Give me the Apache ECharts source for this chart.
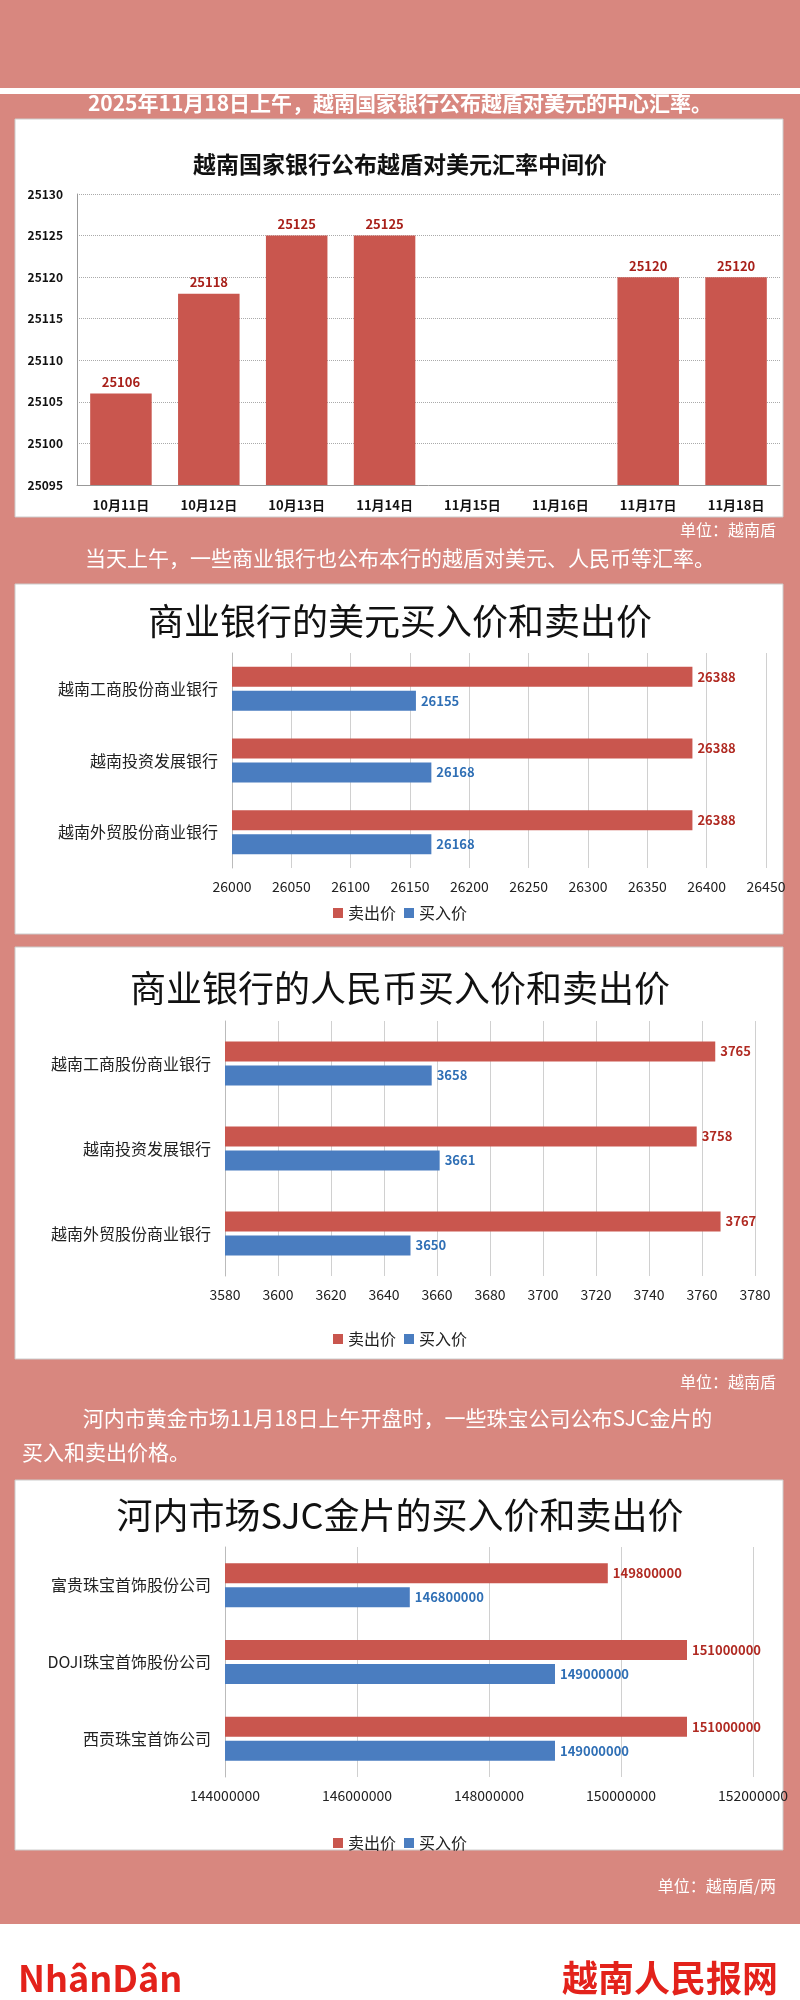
<!DOCTYPE html>
<html><head><meta charset="utf-8">
<script src="https://cdn.jsdelivr.net/npm/echarts@6/dist/echarts.min.js"></script>
<style>html,body{margin:0;padding:0;background:#fff}#main{width:800px;height:2000px}</style>
</head><body><div id="main"></div>
<script>
var FONT = '"Noto Sans CJK SC", sans-serif';
var RED = '#c9564e', BLUE = '#4a7dc0', PINK = '#d8877f';
// 中心汇率
var rateDays = ['10月11日','10月12日','10月13日','11月14日','11月15日','11月16日','11月17日','11月18日'];
var rateVals = [25106,25118,25125,25125,null,null,25120,25120];
// 商业银行
var banks = ['越南工商股份商业银行','越南投资发展银行','越南外贸股份商业银行'];
var usdSell = [26388,26388,26388];
var usdBuy = [26155,26168,26168];
var cnySell = [3765,3758,3767];
var cnyBuy = [3658,3661,3650];
// 金片
var goldCos = ['富贵珠宝首饰股份公司','DOJI珠宝首饰股份公司','西贡珠宝首饰公司'];
var goldSell = [149800000,151000000,151000000];
var goldBuy = [146800000,149000000,149000000];

var myChart = echarts.init(document.getElementById('main'));
function plain(v){ return String(v); }

function box(y,h){
	return {type:'rect',shape:{x:15,y:y,width:768,height:h},style:{fill:'#fff',stroke:'#ccc'}};
}
function txt(x,y,s,size,color,align,weight){
	return {type:'text',x:x,y:y,style:{text:s,fontSize:size,fontWeight:weight||'normal',fontFamily:FONT,fill:color,textAlign:align||'left',textVerticalAlign:'middle'}};
}
//横向条形图的公共设置
function hbar(idx,cats,min,max,step){
	return {
		x:{gridIndex:idx,type:'value',min:min,max:max,interval:step,axisLine:{show:false},axisTick:{show:false},
			splitLine:{lineStyle:{color:'#d0d0d0'}},axisLabel:{color:'#222',fontSize:14,fontFamily:FONT,margin:12,formatter:plain}},
		y:{gridIndex:idx,type:'category',data:cats,inverse:true,axisTick:{show:false},
			axisLine:{lineStyle:{color:'#bbb'}},axisLabel:{color:'#222',fontSize:16,fontFamily:FONT,margin:14}}
	};
}
var a2 = hbar(1,banks,26000,26450,50);
var a3 = hbar(2,banks,3580,3780,20);
var a4 = hbar(3,goldCos,144000000,152000000,2000000);

function barS(name,color,xi,data){
	return {name:name,type:'bar',xAxisIndex:xi,yAxisIndex:xi,data:data,barWidth:20,barGap:'20%',
		itemStyle:{color:color},
		label:{show:true,position:'right',color:color==RED?'#b02a22':'#2f6fb5',fontWeight:'bold',fontSize:13,fontFamily:FONT}};
}
function leg(top){
	return {top:top,left:'center',itemWidth:10,itemHeight:10,icon:'rect',data:['卖出价','买入价'],
		textStyle:{fontSize:16,color:'#222',fontFamily:FONT}};
}

var option = {
	animation:false,
	graphic:[
		{type:'rect',shape:{x:0,y:0,width:800,height:1924},style:{fill:PINK}},
		{type:'rect',shape:{x:0,y:88,width:800,height:6},style:{fill:'#fff'}},
		box(119,398), box(584,350), box(947,412), box(1480,370),
		txt(400,103,'2025年11月18日上午，越南国家银行公布越盾对美元的中心汇率。',21,'#fff','center','bold'),
		txt(776,530,'单位：越南盾',16,'#fff','right'),
		txt(400,558,'当天上午，一些商业银行也公布本行的越盾对美元、人民币等汇率。',21,'#fff','center'),
		txt(776,1382,'单位：越南盾',16,'#fff','right'),
		txt(64,1418,'    河内市黄金市场11月18日上午开盘时，一些珠宝公司公布SJC金片的',21,'#fff'),
		txt(22,1452,'买入和卖出价格。',21,'#fff'),
		txt(776,1886,'单位：越南盾/两',16,'#fff','right'),
		txt(18,1978,'NhânDân',36,'#e3221b','left','bold'),
		txt(778,1978,'越南人民报网',36,'#e3221b','right','bold')
	],
	title:[
		{text:'越南国家银行公布越盾对美元汇率中间价',left:'center',top:148,textStyle:{fontSize:23,fontWeight:'bold',color:'#111',fontFamily:FONT}},
		{text:'商业银行的美元买入价和卖出价',left:'center',top:598,textStyle:{fontSize:36,fontWeight:'normal',color:'#111',fontFamily:FONT}},
		{text:'商业银行的人民币买入价和卖出价',left:'center',top:965,textStyle:{fontSize:36,fontWeight:'normal',color:'#111',fontFamily:FONT}},
		{text:'河内市场SJC金片的买入价和卖出价',left:'center',top:1492,textStyle:{fontSize:36,fontWeight:'normal',color:'#111',fontFamily:FONT}}
	],
	legend:[leg(900),leg(1326),leg(1830)],
	grid:[
		{left:77,right:20,top:194,height:291},
		{left:232,right:34,top:653,height:215},
		{left:225,right:45,top:1021,height:255},
		{left:225,right:47,top:1547,height:230}
	],
	xAxis:[
		{gridIndex:0,type:'category',data:rateDays,axisTick:{show:false},axisLine:{lineStyle:{color:'#999'}},
			axisLabel:{color:'#111',fontSize:13,fontWeight:'bold',fontFamily:FONT,margin:14}},
		a2.x,a3.x,a4.x
	],
	yAxis:[
		{gridIndex:0,type:'value',min:25095,max:25130,interval:5,axisLine:{show:true,lineStyle:{color:'#999'}},
			splitLine:{lineStyle:{color:'#aaa',type:'dotted'}},
			axisLabel:{color:'#111',fontSize:12,fontWeight:'bold',fontFamily:FONT,margin:14,formatter:plain}},
		a2.y,a3.y,a4.y
	],
	series:[
		{type:'bar',xAxisIndex:0,yAxisIndex:0,data:rateVals,barWidth:'70%',itemStyle:{color:RED},
			label:{show:true,position:'top',color:'#a8201a',fontWeight:'bold',fontSize:13,fontFamily:FONT}},
		barS('卖出价',RED,1,usdSell), barS('买入价',BLUE,1,usdBuy),
		barS('卖出价',RED,2,cnySell), barS('买入价',BLUE,2,cnyBuy),
		barS('卖出价',RED,3,goldSell), barS('买入价',BLUE,3,goldBuy)
	]
};
myChart.setOption(option);
</script></body></html>
